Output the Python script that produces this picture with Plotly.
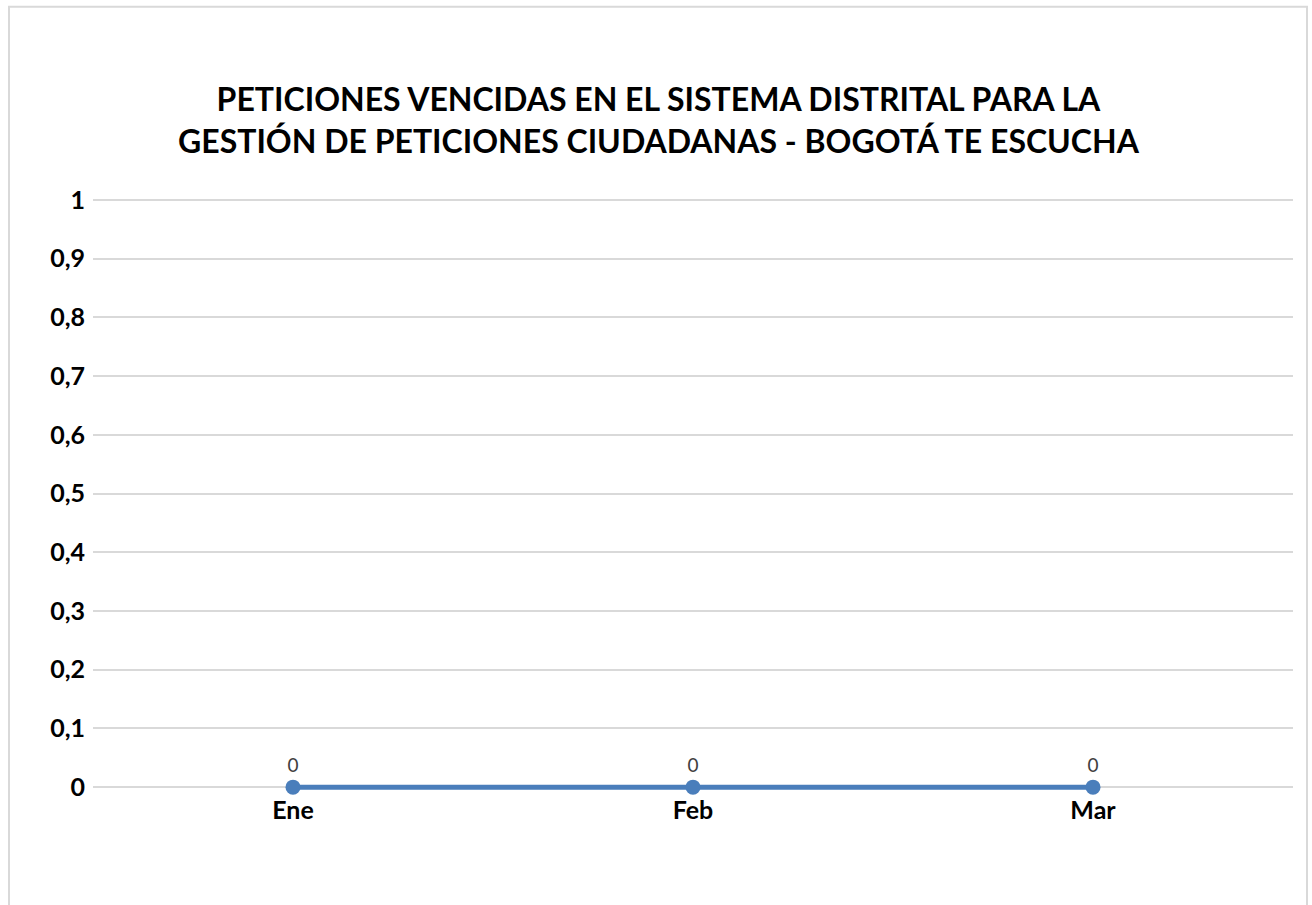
import plotly.graph_objects as go

categories = ["Ene", "Feb", "Mar"]
values = [0, 0, 0]
y_ticks = [0, 0.1, 0.2, 0.3, 0.4, 0.5, 0.6, 0.7, 0.8, 0.9, 1]
title_text = ("PETICIONES VENCIDAS EN EL SISTEMA DISTRITAL PARA LA<br>"
              "GESTIÓN DE PETICIONES CIUDADANAS - BOGOTÁ TE ESCUCHA")

W, H = 1312, 905
# pixel positions of y=0 and y=1 and horizontal extent of the plot area
y0_px, y1_px = 787, 200
left_px, right_px = 93, 1293
pad = 0.01
unit = y0_px - y1_px
top_px = y1_px - pad * unit
bot_px = y0_px + pad * unit
pw = right_px - left_px
ph = bot_px - top_px

def px_to_paper_y(py):
    return (bot_px - py) / ph

def px_to_paper_x(px):
    return (px - left_px) / pw

fig = go.Figure()
fig.add_trace(go.Scatter(
    x=categories, y=values, mode="lines+markers+text",
    line=dict(color="#4a7ebb", width=5),
    marker=dict(color="#4a7ebb", size=15),
    text=[str(v) for v in values], textposition="top center",
    textfont=dict(family="Lato", size=19, color="#404040"),
    cliponaxis=False, showlegend=False,
))

fig.update_layout(
    width=W, height=H,
    margin=dict(l=left_px, r=W - right_px, t=top_px, b=H - bot_px, pad=0),
    paper_bgcolor="white", plot_bgcolor="white",
    separators=",.",
    font=dict(family="Lato", color="black"),
    annotations=[dict(
        text="<b>" + title_text + "</b>", xref="paper", yref="paper",
        x=px_to_paper_x(659), y=px_to_paper_y(120), xanchor="center", yanchor="middle",
        showarrow=False, font=dict(family="Lato", size=32, color="black"))],
    xaxis=dict(type="category", range=[-0.5, 2.5], showgrid=False, showline=False,
               zeroline=False, ticks="",
               tickfont=dict(family="Lato", size=25, color="black", weight="bold"),
               ticklabelstandoff=0),
    yaxis=dict(range=[-pad, 1 + pad], tickvals=y_ticks, tickformat=".1~f", showgrid=True,
               gridcolor="#d9d9d9", gridwidth=1.5, zeroline=True, zerolinecolor="#d9d9d9",
               zerolinewidth=1.5, showline=False, ticks="",
               tickfont=dict(family="Lato", size=25, color="black", weight="bold"),
               ticklabelstandoff=7),
    shapes=[dict(type="rect", xref="paper", yref="paper",
                 x0=px_to_paper_x(9), x1=px_to_paper_x(1307),
                 y0=px_to_paper_y(910), y1=px_to_paper_y(7),
                 line=dict(color="#d9d9d9", width=2), fillcolor="rgba(0,0,0,0)", layer="below")],
)
fig.write_html("out.html", config={"displayModeBar": False},
               post_script="document.body.style.margin='0px';")
